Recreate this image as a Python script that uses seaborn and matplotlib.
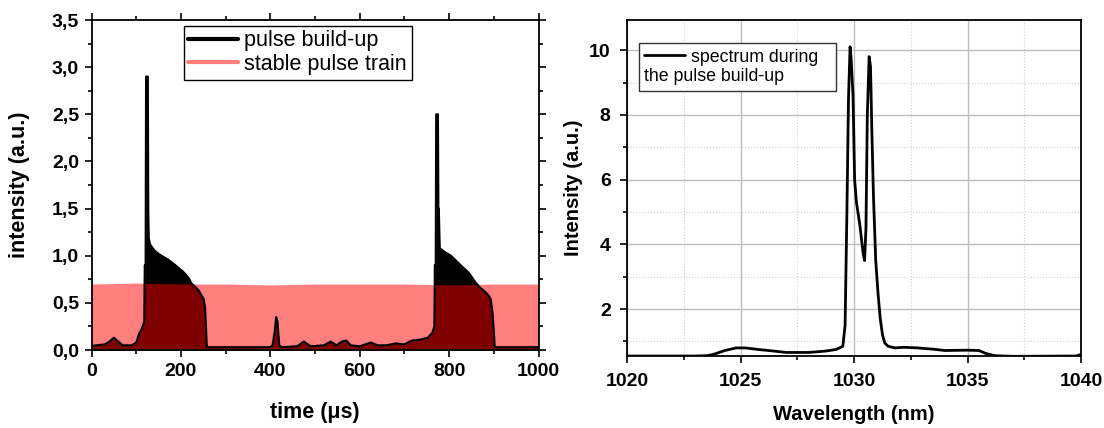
import numpy as np
import pandas as pd
import seaborn as sns
import matplotlib.pyplot as plt
from matplotlib.lines import Line2D
from matplotlib.ticker import MultipleLocator, FuncFormatter

# pulse build-up envelope (time in us, intensity a.u.)
t_build = [0, 10, 30, 40, 50, 60, 70, 90, 100, 107, 112, 118, 119, 121, 122, 126, 127,
           128, 131, 140, 147, 160, 171, 185, 195, 205, 211, 218, 223, 232, 240, 246,
           251, 254, 256, 258, 300, 400, 405, 410, 413, 416, 420, 425, 460, 475, 490,
           520, 535, 548, 560, 570, 580, 600, 625, 640, 660, 680, 700, 716, 735, 752,
           762, 767, 768, 770, 771, 775, 776, 777, 779, 790, 804, 815, 828, 844, 860,
           870, 880, 888, 893, 897, 900, 902, 950, 1000]
i_build = [0.04, 0.05, 0.06, 0.09, 0.13, 0.09, 0.05, 0.05, 0.08, 0.18, 0.22, 0.3, 0.9,
           0.9, 2.9, 2.9, 1.5, 1.19, 1.12, 1.06, 1.03, 0.99, 0.96, 0.91, 0.87, 0.83,
           0.8, 0.76, 0.71, 0.67, 0.63, 0.58, 0.54, 0.45, 0.25, 0.03, 0.03, 0.03, 0.05,
           0.2, 0.35, 0.3, 0.05, 0.03, 0.04, 0.09, 0.04, 0.05, 0.09, 0.05, 0.09, 0.1,
           0.05, 0.04, 0.08, 0.05, 0.05, 0.07, 0.06, 0.1, 0.11, 0.13, 0.18, 0.25, 0.9,
           0.9, 2.5, 2.5, 1.5, 1.5, 1.08, 1.04, 1.0, 0.95, 0.89, 0.82, 0.71, 0.66, 0.62,
           0.58, 0.54, 0.4, 0.2, 0.03, 0.03, 0.03]

# stable pulse train level
t_stable = [0, 100, 200, 300, 400, 500, 600, 700, 800, 900, 1000]
i_stable = [0.70, 0.71, 0.70, 0.70, 0.69, 0.70, 0.70, 0.70, 0.69, 0.70, 0.70]

# spectrum during the pulse build-up
wl = [1020, 1021, 1022, 1023, 1023.5, 1023.8, 1024.3, 1024.8, 1025.2, 1025.8, 1026.5,
      1027, 1028, 1028.7, 1029.2, 1029.5, 1029.6, 1029.68, 1029.75, 1029.82, 1029.86,
      1029.95, 1030.02, 1030.1, 1030.25, 1030.4, 1030.46, 1030.52, 1030.58, 1030.66,
      1030.72, 1030.78, 1030.85, 1030.95, 1031.05, 1031.15, 1031.25, 1031.35, 1031.5,
      1031.8, 1032.2, 1032.8, 1033.5, 1034, 1035, 1035.5, 1035.8, 1036.2, 1037, 1039.8, 1040]
spec = [0.55, 0.55, 0.55, 0.55, 0.56, 0.6, 0.72, 0.8, 0.8, 0.75, 0.7, 0.66, 0.66, 0.7,
        0.75, 0.85, 1.5, 5.0, 8.5, 10.1, 9.8, 8.6, 6.0, 5.3, 4.6, 3.7, 3.5, 4.5, 8.0,
        9.8, 9.5, 7.5, 5.5, 3.5, 2.5, 1.7, 1.2, 0.95, 0.85, 0.8, 0.82, 0.8, 0.76, 0.72,
        0.73, 0.72, 0.63, 0.56, 0.54, 0.55, 0.6]

build = pd.DataFrame({"time": t_build, "intensity": i_build})
stable = pd.DataFrame({"time": t_stable, "intensity": i_stable})
spectrum = pd.DataFrame({"wavelength": wl, "intensity": spec})

sns.set_style("ticks")
plt.rcParams['font.family'] = ['Liberation Sans', 'DejaVu Sans']
plt.rcParams.update({"text.color": "black", "axes.labelcolor": "black",
                     "xtick.color": "black", "ytick.color": "black"})

fig = plt.figure(figsize=(11.04, 4.28), dpi=100)
ax1 = fig.add_axes([0.0829, 0.1822, 0.4049, 0.771])
ax2 = fig.add_axes([0.5682, 0.1682, 0.411, 0.785])

# ---- left panel
ax1.fill_between(build["time"], 0, build["intensity"], color="black", lw=0)
sns.lineplot(data=build, x="time", y="intensity", color="black", lw=1.5, ax=ax1)
ax1.fill_between(stable["time"], 0, stable["intensity"], color="red", alpha=0.5, lw=0)

ax1.set_xlim(0, 1000)
ax1.set_ylim(0, 3.5)
ax1.xaxis.set_major_locator(MultipleLocator(200))
ax1.xaxis.set_minor_locator(MultipleLocator(100))
ax1.yaxis.set_major_locator(MultipleLocator(0.5))
ax1.yaxis.set_minor_locator(MultipleLocator(0.25))
ax1.yaxis.set_major_formatter(FuncFormatter(lambda v, p: f"{v:.1f}".replace(".", ",")))
ax1.tick_params(which="both", direction="out", top=True, right=True, width=1.2)
ax1.tick_params(which="major", length=5, labelsize=14, pad=4)
ax1.tick_params(which="minor", length=3)
for lab in ax1.get_xticklabels() + ax1.get_yticklabels():
    lab.set_fontweight("bold")
for sp in ax1.spines.values():
    sp.set_linewidth(1.3)
    sp.set_color("black")
ax1.set_xlabel("time (μs)", fontsize=15.5, fontweight="bold")
ax1.set_ylabel("intensity (a.u.)", fontsize=15.5, fontweight="bold")
ax1.xaxis.set_label_coords(0.5, -0.158)
ax1.yaxis.set_label_coords(-0.137, 0.5)

h1 = [Line2D([], [], color="black", lw=3),
      Line2D([], [], color="red", alpha=0.5, lw=3)]
leg1 = ax1.legend(h1, ["pulse build-up", "stable pulse train"], loc="upper left",
                  bbox_to_anchor=(0.206, 0.983), borderaxespad=0, fontsize=15.5,
                  handlelength=2.3, handletextpad=0.3, labelspacing=0.12,
                  borderpad=0.22, fancybox=False, edgecolor="black", framealpha=1)
leg1.get_frame().set_linewidth(1.0)

# ---- right panel
sns.lineplot(data=spectrum, x="wavelength", y="intensity", color="black", lw=2, ax=ax2)
ax2.set_xlim(1020, 1040)
ax2.set_ylim(0.55, 10.93)
ax2.xaxis.set_major_locator(MultipleLocator(5))
ax2.xaxis.set_minor_locator(MultipleLocator(2.5))
ax2.yaxis.set_major_locator(MultipleLocator(2))
ax2.yaxis.set_minor_locator(MultipleLocator(1))
ax2.grid(which="major", color="#bdbdbd", lw=1, ls="-")
ax2.grid(which="minor", color="#cfcfcf", lw=0.8, ls=":")
ax2.set_axisbelow(True)
ax2.tick_params(which="both", direction="out", width=1.2)
ax2.tick_params(which="major", length=5, labelsize=14, pad=7)
ax2.tick_params(which="minor", length=3)
for lab in ax2.get_xticklabels() + ax2.get_yticklabels():
    lab.set_fontweight("bold")
for sp in ax2.spines.values():
    sp.set_linewidth(1.3)
    sp.set_color("black")
ax2.set_xlabel("Wavelength (nm)", fontsize=14.5, fontweight="bold")
ax2.set_ylabel("Intensity (a.u.)", fontsize=14.5, fontweight="bold")
ax2.xaxis.set_label_coords(0.5, -0.146)
ax2.yaxis.set_label_coords(-0.097, 0.5)

h2 = [Line2D([], [], color="black", lw=2), Line2D([], [], alpha=0)]
leg_fs = 12.8
leg2 = ax2.legend(h2, ["spectrum during", "the pulse build-up"], loc="upper left",
                  bbox_to_anchor=(0.0247, 0.9307), borderaxespad=0, fontsize=leg_fs,
                  handlelength=2.3, handletextpad=0.36, labelspacing=0.15,
                  borderpad=0.3, fancybox=False, edgecolor="#333333", framealpha=1)
leg2.get_frame().set_linewidth(1.0)
# second line of the label starts under the handle
shift = (2.3 + 0.36) * leg_fs * fig.dpi / 72
leg2.get_texts()[1].set_x(-shift)

fig.savefig("out.png", dpi=100)
